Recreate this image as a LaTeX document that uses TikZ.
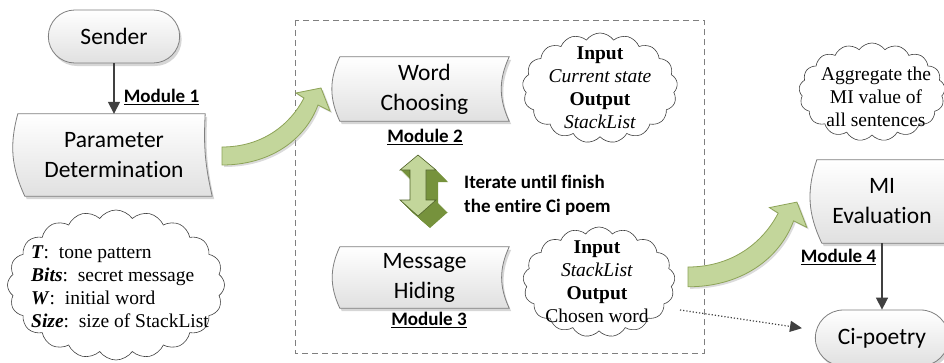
\documentclass[tikz,border=0pt]{standalone}
\usepackage{fontspec}
\setmainfont{Liberation Serif}
\newfontfamily\calibri[Ligatures=NoCommon]{Carlito}
\usetikzlibrary{shapes.misc,shapes.symbols,shadows,arrows.meta,backgrounds}

\definecolor{boxline}{HTML}{7F7F7F}
\definecolor{leafgreen}{HTML}{C3D69B}
\definecolor{leafedge}{HTML}{8DA357}
\definecolor{olivedark}{HTML}{76923C}
\definecolor{olivedeep}{HTML}{4F6228}
\definecolor{arrowgray}{HTML}{404040}

\tikzset{
  boxshade/.style={draw=boxline, line width=0.8pt, top color=white, bottom color=black!12,
    drop shadow={shadow xshift=2pt, shadow yshift=-3pt, fill=black!35, opacity=0.45}},
  terminal/.style={rounded rectangle, boxshade, font=\calibri\fontsize{23.5}{30}\selectfont},
  boxtext/.style={align=center, inner sep=0pt, font=\calibri\fontsize{23.5}{30}\selectfont},
  modlabel/.style={inner sep=1pt, font=\calibri\bfseries\fontsize{19}{24}\selectfont},
  thought/.style={cloud, cloud puffs=17, cloud puff arc=110, cloud ignores aspect,
    draw=black!75, fill=white, line width=0.6pt, inner sep=0pt},
  cloudtext/.style={align=center, inner sep=0pt, font=\fontsize{19.5}{23}\selectfont},
  flow/.style={draw=arrowgray, line width=1.5pt, -{Triangle[length=12pt,width=12pt]}},
  greenarrow/.style={fill=leafgreen, draw=leafedge, line width=0.8pt,
    drop shadow={shadow xshift=2pt, shadow yshift=-2pt, fill=black!35, opacity=0.4}},
}

\begin{document}
\begin{tikzpicture}[x=1pt, y=-1pt]
\useasboundingbox (0,0) rectangle (944,362);

% flowchart nodes
\node[terminal, minimum width=138pt, minimum height=53pt] (sender) at (114,36.5) {Sender};
\node[boxtext, minimum width=190pt, minimum height=82pt] (param) at (114,155) {Parameter\\Determination};
\node[boxtext, minimum width=169pt, minimum height=64pt] (word) at (424.5,89) {Word\\Choosing};
\node[boxtext, minimum width=169pt, minimum height=61pt] (hiding) at (424.5,277.5) {Message\\Hiding};
\node[boxtext, minimum width=130pt, minimum height=83pt] (mi) at (882,201.5) {MI\\Evaluation};
\node[terminal, minimum width=140pt, minimum height=56pt] (ci) at (882,338) {Ci-poetry};

% stored data outlines
\begin{scope}[on background layer]
  \fill[white] (0,0) rectangle (944,362);
  \path[boxshade] ([xshift=-1pt]param.north west) to[bend right=20] ([xshift=6pt]param.south west)
    -- ([xshift=3pt]param.south east) to[bend left=8] ([xshift=-4pt]param.north east) -- cycle;
  \path[boxshade] (word.north west) to[bend right=25] (word.south west)
    -- (word.south east) to[bend left=25] (word.north east) -- cycle;
  \path[boxshade] (hiding.north west) to[bend right=25] (hiding.south west)
    -- (hiding.south east) to[bend left=25] (hiding.north east) -- cycle;
  \path[boxshade] (mi.north west) to[bend right=22] ([xshift=5pt]mi.south west)
    -- ([xshift=40pt]mi.south east) -- ([xshift=40pt]mi.north east) -- cycle;
\end{scope}

% module labels
\node[modlabel] (mod1) at (161.5,97) {\underline{Module 1}};
\node[modlabel] (mod2) at (425,137) {\underline{Module 2}};
\node[modlabel] (mod3) at (429,320) {\underline{Module 3}};
\node[modlabel] (mod4) at (838.5,257) {\underline{Module 4}};

% iteration frame
\draw[boxline, line width=0.8pt, dash pattern=on 6pt off 4pt] (295,20) rectangle (704,353);

% curved block arrows
\begin{scope}[shift={(222,147)}]
  \filldraw[greenarrow] (0,18) .. controls (48,18) and (83,-7) .. (96,-42) -- (108,-36) -- (99,-59)
    -- (74,-54) -- (82,-49) .. controls (68,-22) and (40,0) .. (0,0) -- cycle;
\end{scope}
\begin{scope}[shift={(688,267)}, scale=1.1]
  \filldraw[greenarrow] (0,18) .. controls (48,18) and (83,-7) .. (96,-42) -- (108,-36) -- (99,-59)
    -- (74,-54) -- (82,-49) .. controls (68,-22) and (40,0) .. (0,0) -- cycle;
\end{scope}

% 3d up-down arrow
\begin{scope}[shift={(418,155)}]
  \foreach \k in {12,...,1}
    \fill[olivedark, shift={(\k,\k)}] (0,0) -- (18,15) -- (8,15) -- (8,45) -- (18,45) -- (0,61)
      -- (-18,45) -- (-8,45) -- (-8,15) -- (-18,15) -- cycle;
  \filldraw[fill=leafgreen, draw=olivedeep, line width=0.6pt] (0,0) -- (18,15) -- (8,15) -- (8,45)
    -- (18,45) -- (0,61) -- (-18,45) -- (-8,45) -- (-8,15) -- (-18,15) -- cycle;
\end{scope}
\node[modlabel, align=left, anchor=west] (iterate) at (463,195) {Iterate until finish\\the entire Ci poem};

% clouds
\node[thought, cloud puffs=20, minimum width=217pt, minimum height=150pt] (cloudparam) at (116,285) {};
\node[cloudtext, align=left, anchor=west] (paramlist) at (31,287)
  {\textbf{\textit{T}}:\ \ tone pattern\\\textbf{\textit{Bits}}:\ \ secret message\\
   \textbf{\textit{W}}:\ \ initial word\\\textbf{\textit{Size}}:\ \ size of StackList};
\node[thought, minimum width=155pt, minimum height=110pt] (cloudword) at (600,88) {};
\node[cloudtext] (wordio) at (600,88) {\textbf{Input}\\\textit{Current state}\\\textbf{Output}\\\textit{StackList}};
\node[thought, minimum width=152pt, minimum height=110pt] (cloudhide) at (599,282) {};
\node[cloudtext] (hideio) at (597,282) {\textbf{Input}\\\textit{StackList}\\\textbf{Output}\\Chosen word};
\node[thought, minimum width=146pt, minimum height=98pt] (cloudmi) at (872,92) {};
\node[cloudtext] (miaggr) at (876,97) {Aggregate the\\MI value of\\all sentences};

% connectors
\draw[flow] (sender.south) -- (param.north);
\draw[flow] (mi.south) -- (ci.north);
\coordinate (hideout) at (680,310);
\coordinate (cientry) at (801,328);
\draw[arrowgray, line width=1.2pt, dotted, -{Triangle[length=12pt,width=11pt,sep=-1pt]}] (hideout) -- (cientry);
\end{tikzpicture}
\end{document}
